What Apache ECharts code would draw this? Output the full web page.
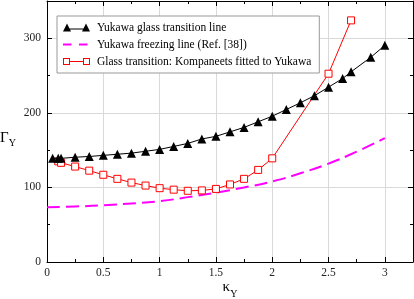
<!DOCTYPE html>
<html>
<head>
<meta charset="utf-8">
<script src="https://cdn.jsdelivr.net/npm/echarts@6/dist/echarts.min.js"></script>
<style>
html,body{margin:0;padding:0;background:#fff;}
#chart{width:414px;height:299px;}
</style>
</head>
<body>
<div id="chart"></div>
<script>
// ---- data ----
const glassName = 'Yukawa glass transition line';
const glassX = [0.05, 0.1, 0.125, 0.25, 0.375, 0.5, 0.625, 0.75, 0.875, 1.0, 1.125, 1.25, 1.375, 1.5, 1.625, 1.75, 1.875, 2.0, 2.125, 2.25, 2.375, 2.5, 2.625, 2.7, 2.875, 3.0];
const glassY = [139, 139, 139, 140.5, 141.5, 143, 144.5, 146, 148.5, 151, 155, 159, 165, 168.5, 174.5, 180.5, 188, 195.5, 204.5, 213.5, 223, 234.5, 246, 255, 274.5, 290.5];

const freezeName = 'Yukawa freezing line (Ref. [38])';
const freezeX = [0, 0.25, 0.5, 0.75, 1.0, 1.25, 1.5, 1.75, 2.0, 2.25, 2.5, 2.75, 3.0];
const freezeY = [73.5, 74.5, 76, 78.5, 81.5, 87, 93, 100, 108, 119, 132, 148, 166];

const kompName = 'Glass transition: Kompaneets fitted to Yukawa';
const kompX = [0.1, 0.125, 0.25, 0.375, 0.5, 0.625, 0.75, 0.875, 1.0, 1.125, 1.25, 1.375, 1.5, 1.625, 1.75, 1.875, 2.0, 2.5, 2.7];
const kompY = [135, 133, 128, 122.5, 117, 111.5, 106.5, 102.5, 99, 97, 95.5, 96, 98, 104, 111.5, 123.5, 139, 252.5, 324];

const xTicks = {min: 0, max: 3.25, interval: 0.5};
const yTicks = {min: 0, max: 350, interval: 100};

// ---- chart ----
const pair = (xs, ys) => xs.map((x, i) => [x, ys[i]]);
const serif = "'Liberation Serif', 'Times New Roman', serif";

const chart = echarts.init(document.getElementById('chart'), null, {renderer: 'canvas'});

function axisCommon(t, showLabels, pos) {
  return {
    type: 'value', min: t.min, max: t.max, interval: t.interval, position: pos,
    axisLine: {show: true, onZero: false, lineStyle: {color: '#000', width: 1}},
    axisTick: {show: true, inside: true, length: 5, lineStyle: {color: '#000', width: 1}},
    minorTick: {show: true, splitNumber: 2, length: 3, lineStyle: {color: '#000', width: 1}},
    splitLine: {show: showLabels, lineStyle: {color: '#d9d9d9', width: 1}},
    axisLabel: {show: showLabels, showMaxLabel: false, fontFamily: serif, fontSize: 11.5, color: '#222'}
  };
}

const xBottom = axisCommon(xTicks, true, 'bottom');
xBottom.axisLabel.margin = 5;
xBottom.name = '{a|κ}{b|Y}';
xBottom.nameLocation = 'middle';
xBottom.nameGap = 17;
xBottom.nameMoveOverlap = false;
xBottom.nameTextStyle = {
  rich: {
    a: {fontFamily: serif, fontSize: 15, color: '#000', lineHeight: 16},
    b: {fontFamily: serif, fontSize: 10, color: '#000', verticalAlign: 'bottom', lineHeight: 10, padding: [0, 0, -4, 0]}
  }
};
const xTop = axisCommon(xTicks, false, 'top');

const yLeft = axisCommon(yTicks, true, 'left');
yLeft.axisLabel.margin = 6;
yLeft.name = '{a|Γ}{b|Y}';
yLeft.nameLocation = 'middle';
yLeft.nameRotate = 0;
yLeft.nameGap = 31;
yLeft.nameMoveOverlap = false;
yLeft.nameTextStyle = {
  padding: [14, 0, 0, 0],
  rich: {
    a: {fontFamily: serif, fontSize: 15, color: '#000', lineHeight: 16},
    b: {fontFamily: serif, fontSize: 10, color: '#000', verticalAlign: 'bottom', lineHeight: 10, padding: [0, 0, -2, 0]}
  }
};
const yRight = axisCommon(yTicks, false, 'right');

const iconTri = 'path://M0,8L4,0L8,8Z M19,8L23,0L27,8Z M6,5L21,5L21,6L6,6Z';
const iconDash = 'path://M0,0 M27,8 M0,3L8.5,3L8.5,5L0,5Z M16,3L24.5,3L24.5,5L16,5Z';
const iconSq = 'path://M0,0 M27,8 M0,0.5L7,0.5L7,7.5L0,7.5Z M1,1.5L1,6.5L6,6.5L6,1.5Z M20,0.5L27,0.5L27,7.5L20,7.5Z M21,1.5L21,6.5L26,6.5L26,1.5Z M7,3.5L20,3.5L20,4.5L7,4.5Z';

const option = {
  backgroundColor: '#fff',
  animation: false,
  grid: {left: 47, right: 1, top: 1, bottom: 37, containLabel: false, outerBoundsMode: 'none'},
  xAxis: [xBottom, xTop],
  yAxis: [yLeft, yRight],
  legend: {
    show: true,
    orient: 'vertical',
    left: 57, top: 16,
    padding: [5, 8, 5, 6],
    itemGap: 4,
    itemWidth: 27, itemHeight: 8,
    backgroundColor: '#fff',
    borderColor: '#999', borderWidth: 1, borderRadius: 0,
    textStyle: {fontFamily: serif, fontSize: 11.5, color: '#000', lineHeight: 13, padding: [0, 0, 0, 2]},
    data: [
      {name: glassName, icon: iconTri, itemStyle: {color: '#000', borderWidth: 0}},
      {name: freezeName, icon: iconDash, itemStyle: {color: '#ff00ff', borderWidth: 0}},
      {name: kompName, icon: iconSq, itemStyle: {color: '#ff0000', borderWidth: 0}}
    ]
  },
  series: [
    {
      name: freezeName, type: 'line', smooth: true, showSymbol: false, symbol: 'none',
      data: pair(freezeX, freezeY),
      lineStyle: {color: '#ff00ff', width: 2, type: [13, 6]},
      itemStyle: {color: '#ff00ff'}, z: 2
    },
    {
      name: kompName, type: 'line', data: pair(kompX, kompY),
      symbol: 'rect', symbolSize: 7,
      lineStyle: {color: '#ff0000', width: 1},
      itemStyle: {color: '#fff', borderColor: '#ff0000', borderWidth: 1}, z: 3
    },
    {
      name: glassName, type: 'line', data: pair(glassX, glassY),
      symbol: 'triangle', symbolSize: 9,
      lineStyle: {color: '#000', width: 1},
      itemStyle: {color: '#000'}, z: 4
    }
  ]
};
chart.setOption(option);
</script>
</body>
</html>
